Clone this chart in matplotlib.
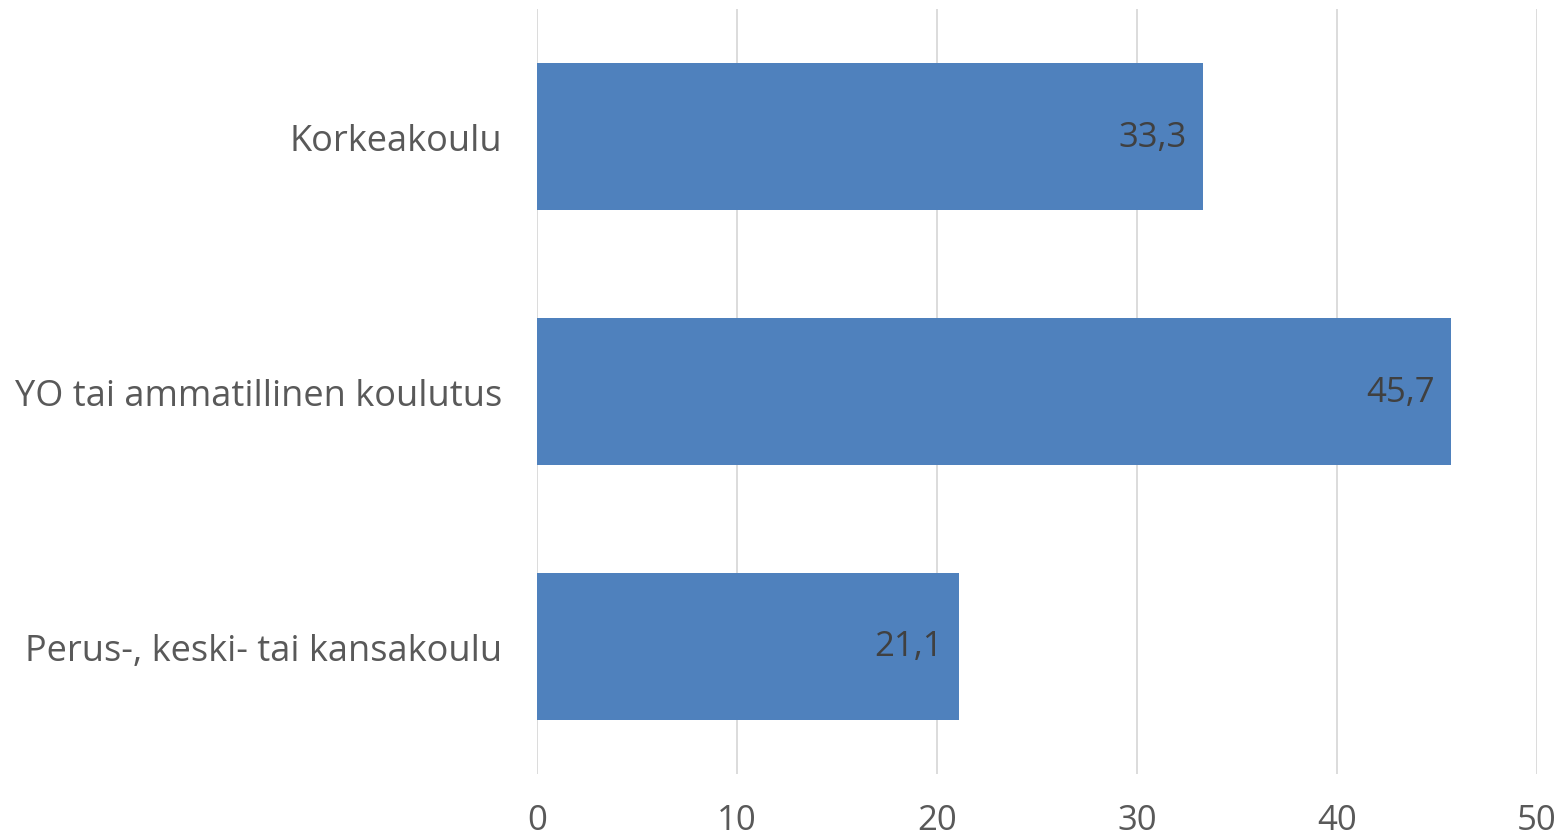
## Education level bar chart
import matplotlib
matplotlib.use("Agg")
import matplotlib.pyplot as plt

## Data
categories = ["Perus-, keski- tai kansakoulu", "YO tai ammatillinen koulutus", "Korkeakoulu"]
values = [21.1, 45.7, 33.3]
value_labels = ["21,1", "45,7", "33,3"]
x_ticks = [0, 10, 20, 30, 40, 50]

plt.rcParams['font.family'] = ['Open Sans', 'DejaVu Sans']

fig = plt.figure(figsize=(15.64, 8.37), dpi=100)
ax = fig.add_axes([0.3434, 0.0741, 0.6394, 0.9139])

ypos = list(range(len(categories)))
bars = ax.barh(ypos, values, height=0.574, color='#4F81BD', zorder=3)

# labels inside the end of each bar
for y, v, lab in zip(ypos, values, value_labels):
    ax.annotate(lab, xy=(v, y), xytext=(-12, 0), textcoords='offset points',
                ha='right', va='center', fontsize=25, color='#404040', zorder=4)

ax.set_xlim(0, 50)
ax.set_ylim(-0.5, 2.5)
ax.set_xticks(x_ticks)
ax.set_xticklabels([str(t) for t in x_ticks])
ax.set_yticks(ypos)
ax.set_yticklabels(categories)

ax.grid(axis='x', color='#D9D9D9', linewidth=1.3, zorder=0)
for s in ax.spines.values():
    s.set_visible(False)

ax.tick_params(axis='x', length=0, pad=21, labelsize=25, labelcolor='#595959')
ax.tick_params(axis='y', length=0, pad=25, labelsize=26, labelcolor='#595959')

fig.savefig('out.png', dpi=100)
